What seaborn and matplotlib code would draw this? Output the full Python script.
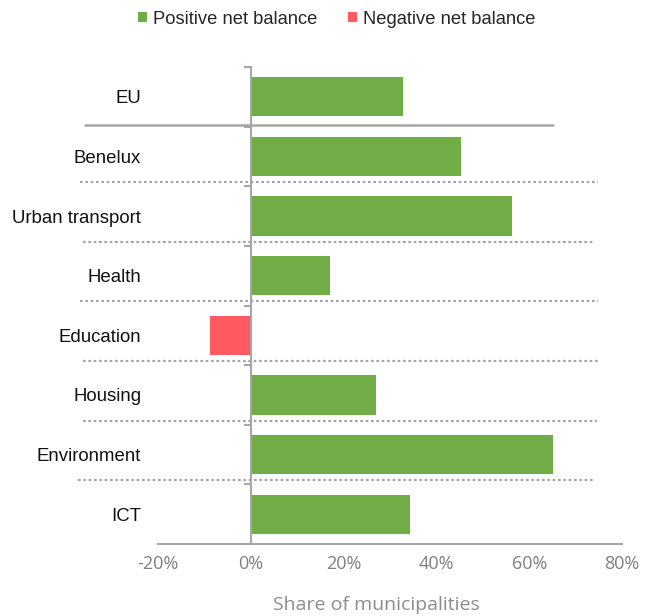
import matplotlib
matplotlib.use("Agg")
import matplotlib.pyplot as plt
import seaborn as sns
import pandas as pd
from matplotlib.patches import Patch
from matplotlib.ticker import FixedLocator, PercentFormatter

categories = ["EU", "Benelux", "Urban transport", "Health", "Education",
              "Housing", "Environment", "ICT"]
values = [32.7, 45.2, 56.3, 17.0, -8.7, 27.0, 65.1, 34.3]
legend_labels = ["Positive net balance", "Negative net balance"]
xticks = [-20, 0, 20, 40, 60, 80]
xlabel = "Share of municipalities"

green = "#70AD47"
red = "#FF5A60"
axis_gray = "#A6A6A6"

df = pd.DataFrame({"category": categories, "value": values})
df["balance"] = [legend_labels[0] if v >= 0 else legend_labels[1] for v in values]

sns.set_style("white")
plt.rcParams["font.family"] = ["Liberation Sans", "DejaVu Sans"]
plt.rcParams["axes.unicode_minus"] = False

fig = plt.figure(figsize=(6.55, 6.16), dpi=100)
ax = fig.add_axes([158 / 655, 1 - 544 / 616, 464 / 655, 477 / 616])

sns.barplot(data=df, x="value", y="category", hue="balance",
            palette={legend_labels[0]: green, legend_labels[1]: red},
            dodge=False, width=0.66, orient="h", ax=ax, legend=False,
            saturation=1, linewidth=0)

ax.set_xlim(-20, 80)
ax.set_ylim(len(categories) - 0.5, -0.5)

# spines
for s in ["top", "left"]:
    ax.spines[s].set_visible(False)
ax.spines["bottom"].set_color(axis_gray)
ax.spines["bottom"].set_linewidth(1.5)
ax.spines["right"].set_position(("data", 0))
ax.spines["right"].set_color(axis_gray)
ax.spines["right"].set_linewidth(1.5)

# x axis
ax.set_xticks(xticks)
ax.xaxis.set_major_formatter(PercentFormatter(decimals=0))
ax.tick_params(axis="x", direction="in", length=6, width=1.5, color=axis_gray,
               labelcolor="#7F7F7F", labelsize=13, pad=8)
for lab in ax.get_xticklabels():
    lab.set_family(["Open Sans", "DejaVu Sans"])
ax.set_xlabel(xlabel, fontsize=14, color="#8C8C8C", family=["Open Sans", "DejaVu Sans"])
ax.xaxis.set_label_coords((376 - 158) / 464, -0.11)

# y axis labels at left, boundary ticks on the zero line
ax.set_ylabel("")
ax.tick_params(axis="y", which="major", left=False, right=False, labelleft=True,
               labelright=False, labelsize=13.4, labelcolor="#111111", pad=8.5)
ax.yaxis.set_minor_locator(FixedLocator([i - 0.5 for i in range(len(categories) + 1)]))
ax.tick_params(axis="y", which="minor", left=False, right=True, direction="in",
               length=5, width=1.5, color=axis_gray)

# separators
trans = ax.get_yaxis_transform()
ax.plot([(85 - 158) / 464, (553 - 158) / 464], [0.48, 0.48], transform=trans,
        color=axis_gray, lw=1.8, clip_on=False, zorder=0)
dotted_extents = [(80, 598), (83, 593), (80, 598), (83, 600), (83, 597), (78, 595)]
for k, (x0, x1) in enumerate(dotted_extents):
    yk = k + 1.5 - 0.07
    ax.plot([(x0 - 158) / 464, (x1 - 158) / 464], [yk, yk], transform=trans,
            color=axis_gray, lw=1.6, ls=(0, (1.2, 1.2)), clip_on=False, zorder=0)

handles = [Patch(facecolor=green, edgecolor="none"), Patch(facecolor=red, edgecolor="none")]
fig.legend(handles, legend_labels, loc="center", bbox_to_anchor=(0.514, 0.969), ncol=2,
           frameon=False, fontsize=13.2, handlelength=0.5, handleheight=0.5,
           handletextpad=0.3, columnspacing=1.7)

fig.savefig("out.png", dpi=100)
